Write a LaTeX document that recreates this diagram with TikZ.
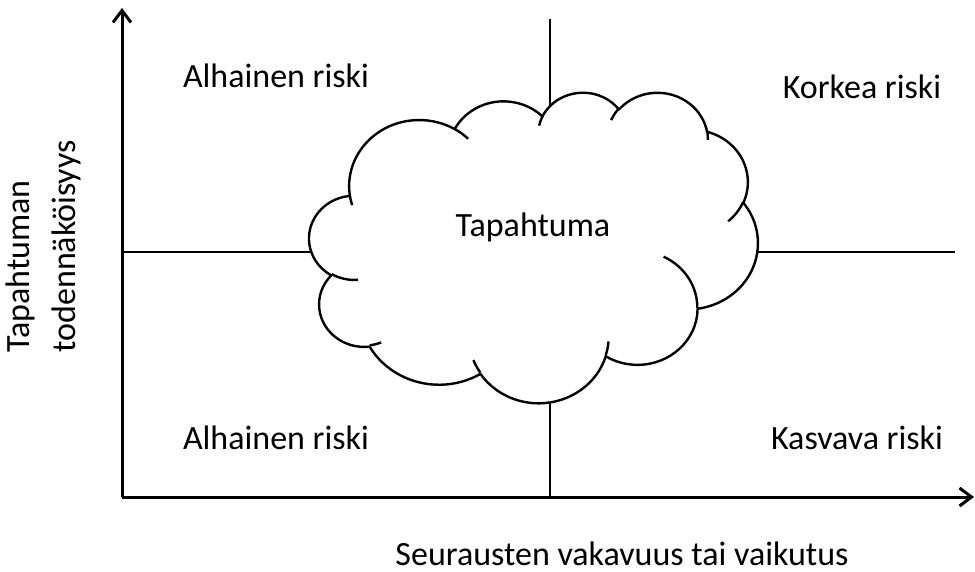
\documentclass[tikz,border=0pt]{standalone}
\usepackage{fontspec}
\setmainfont{Carlito}
\usepackage{xcolor}
\usepackage{tikz}
\usetikzlibrary{arrows.meta}
\definecolor{ink}{HTML}{000000}
\definecolor{paper}{HTML}{FFFFFF}
\tikzset{
  axes/.style={-{Straight Barb[length=6pt,width=9pt]}, line width=1.5pt, draw=ink},
  divider/.style={line width=0.6pt, draw=ink},
  cloudline/.style={line width=1.2pt, draw=ink, line join=round},
  lab/.style={text=ink, font=\fontsize{17}{23}\selectfont, inner sep=0pt}
}

\begin{document}
\begin{tikzpicture}[x=0.5pt,y=-0.5pt]
  \useasboundingbox (0,0) rectangle (975,572);
  \coordinate (O) at (122,497);
  \coordinate (ytip) at (122,8);
  \coordinate (xtip) at (974,497);
  \coordinate (vtop) at (550,19);
  \coordinate (vbot) at (550,497);
  \coordinate (hleft) at (122,252);
  \coordinate (hright) at (955,252);

  \draw[divider] (vtop) -- (vbot);
  \draw[divider] (hleft) -- (hright);
  \draw[axes] (O) -- (ytip);
  \draw[axes] (O) -- (xtip);

  % cloud
  \begin{scope}[shift={(309.3,91.7)},xscale=1.038,yscale=0.7187]
    \draw[cloudline,fill=paper] (39.00,143.70)
      arc[start angle=-187.746,delta angle=128.109,x radius=67.53,y radius=91.90]
      arc[start angle=-152.040,delta angle=106.616,x radius=53.33,y radius=72.67]
      arc[start angle=-153.496,delta angle=116.188,x radius=43.65,y radius=59.45]
      arc[start angle=-139.712,delta angle=129.500,x radius=48.57,y radius=65.95]
      arc[start angle=-74.768,delta angle=97.979,x radius=53.33,y radius=72.73]
      arc[start angle=-37.520,delta angle=119.382,x radius=67.75,y radius=92.20]
      arc[start angle=0.460,delta angle=121.517,x radius=57.85,y radius=78.67]
      arc[start angle=16.845,delta angle=129.365,x radius=67.52,y radius=92.15]
      arc[start angle=58.981,delta angle=91.213,x radius=77.20,y radius=105.43]
      arc[start angle=-276.694,delta angle=139.812,x radius=43.60,y radius=59.18]
      arc[start angle=-239.651,delta angle=143.764,x radius=43.45,y radius=59.45]
      -- cycle;
    \draw[cloudline]
      (46.93,261.77) arc[start angle=85.547,delta angle=34.802,x radius=43.45,y radius=59.45]
      (69.28,348.99) arc[start angle=68.236,delta angle=15.070,x radius=43.60,y radius=59.18]
      (164.78,390.90) arc[start angle=146.210,delta angle=12.261,x radius=67.52,y radius=92.15]
      (288.27,347.51) arc[start angle=4.738,delta angle=12.107,x radius=67.52,y radius=92.15]
      (341.29,229.54) arc[start angle=-64.029,delta angle=64.489,x radius=57.85,y radius=78.67]
      (417.98,153.54) arc[start angle=23.211,delta angle=26.429,x radius=53.33,y radius=72.73]
      (383.24,54.26) arc[start angle=-10.212,delta angle=11.033,x radius=48.57,y radius=65.95]
      (290.78,39.52) arc[start angle=-156.273,delta angle=16.561,x radius=48.57,y radius=65.95]
      (221.41,47.20) arc[start angle=-167.726,delta angle=14.230,x radius=43.65,y radius=59.45]
      (140.00,51.92) arc[start angle=-59.637,delta angle=13.897,x radius=67.53,y radius=91.90]
      (41.27,157.89) arc[start angle=163.196,delta angle=9.058,x radius=67.53,y radius=91.90];
  \end{scope}

  \node[lab,anchor=base] (lowA) at (276,88) {Alhainen riski};
  \node[lab,anchor=base] (highR) at (862,99) {Korkea riski};
  \node[lab,anchor=base] (lowB) at (276,450) {Alhainen riski};
  \node[lab,anchor=base] (growR) at (857,450) {Kasvava riski};
  \node[lab,anchor=base] (event) at (533,237) {Tapahtuma};
  \node[lab,anchor=base] (xlab) at (622,565) {Seurausten vakavuus tai vaikutus};
  \node[lab,rotate=90,anchor=north west,align=left] (ylab) at (5,353) {Tapahtuman\\todennäköisyys};
\end{tikzpicture}
\end{document}
